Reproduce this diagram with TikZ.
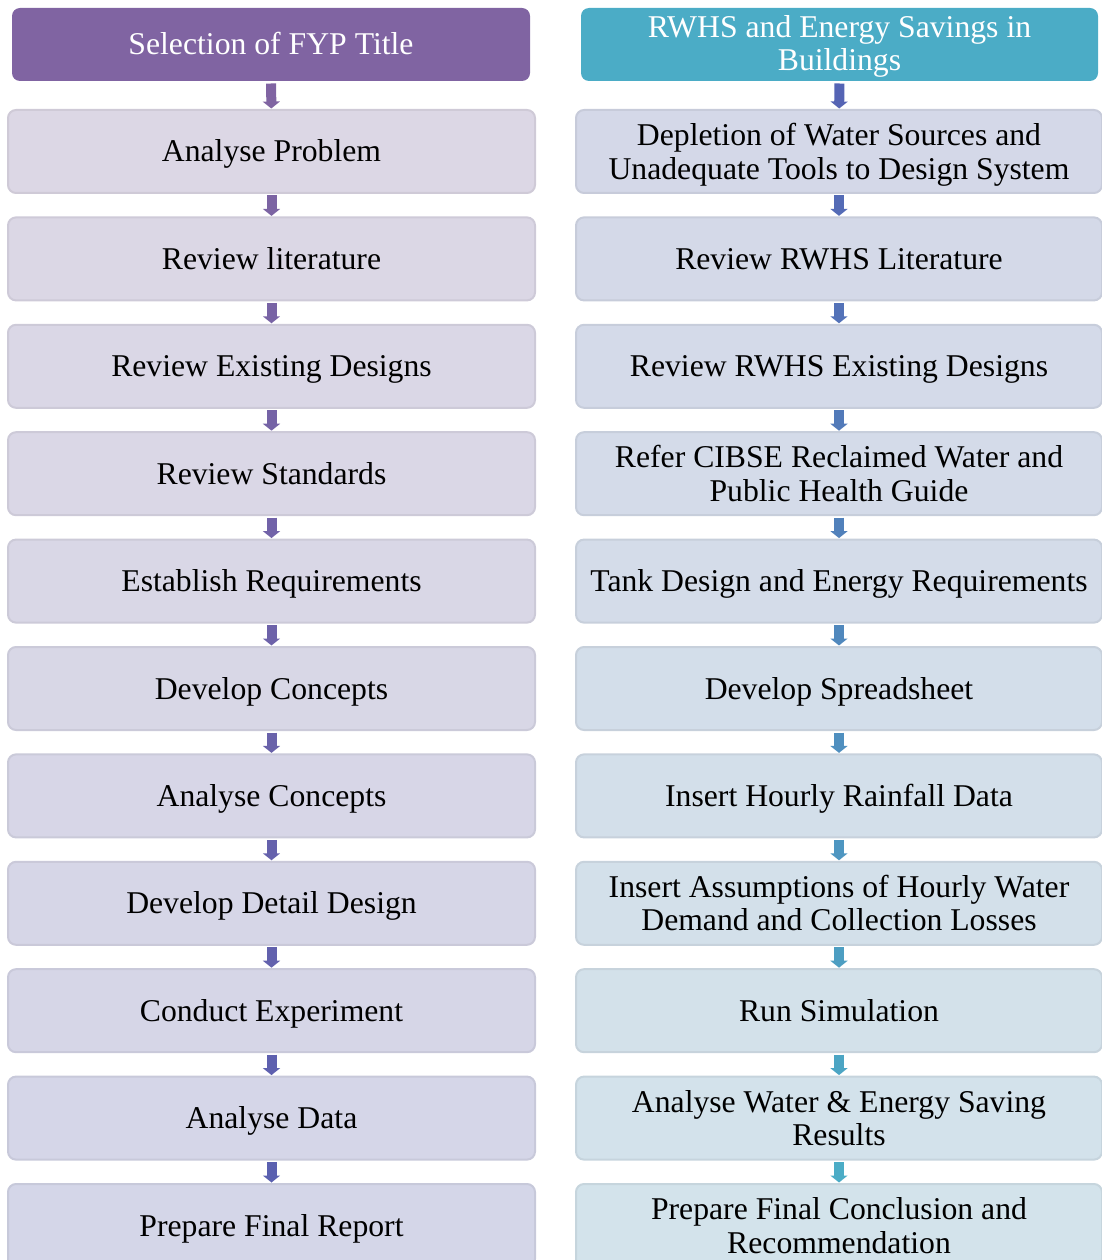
\documentclass[tikz,border=0pt]{standalone}
\usepackage{fontspec}
\setmainfont{Liberation Serif}
\usetikzlibrary{arrows.meta}
\definecolor{LA}{HTML}{DCD7E5}
\definecolor{LB}{HTML}{D4D6E8}
\definecolor{RA}{HTML}{D4D8E8}
\definecolor{RB}{HTML}{D3E3EB}
\definecolor{LAa}{HTML}{8064A2}
\definecolor{LBa}{HTML}{5A60B0}
\definecolor{RAa}{HTML}{5564B4}
\definecolor{RBa}{HTML}{4BACC6}
\definecolor{HL}{HTML}{8064A2}
\definecolor{HR}{HTML}{4BACC6}
\tikzset{
  txt/.style={align=center, inner sep=0pt, font=\fontsize{31.7}{33.3}\selectfont, anchor=base},
  box/.style={rectangle, rounded corners=8pt, line width=2pt, inner sep=0pt},
  arr/.style={line width=10pt, -{Triangle[width=17pt,length=7pt]}, shorten <=1.5pt, shorten >=0.5pt}
}
\begin{document}
\begin{tikzpicture}[x=1pt,y=-1pt]
\useasboundingbox (0,0) rectangle (1101,1260);
\node[box, fill=HL, minimum width=518, minimum height=73] (LH) at (271,44.5) {};
\node[txt, text=white, yshift=-9.8pt] (LHt) at (LH.center) {Selection of FYP Title};
\node[box, fill=HR, minimum width=517, minimum height=73] (RH) at (839.5,44.5) {};
\node[txt, text=white, yshift=-26.2pt] (RHt) at (RH.center) {RWHS and Energy Savings in\\Buildings};
\foreach [count=\i from 0] \t/\s in {Analyse Problem/-10.5, Review literature/-10.5, Review Existing Designs/-10.5, Review Standards/-10.5, Establish Requirements/-10.5, Develop Concepts/-10.5, Analyse Concepts/-10.5, Develop Detail Design/-10.5, Conduct Experiment/-10.5, Analyse Data/-10.5, Prepare Final Report/-10.5} {
  \pgfmathtruncatemacro\p{\i*10}
  \pgfmathsetmacro\y{151.5+107.4*\i}
  \colorlet{cf}{LB!\p!LA}
  \node[box, fill=cf, draw=cf!94!black, minimum width=527, minimum height=83] (L\i) at (271.5,\y) {};
  \node[txt, yshift=\s pt] (Lt\i) at (L\i.center) {\t};
}
\foreach [count=\i from 0] \t/\s in {{Depletion of Water Sources and\\Unadequate Tools to Design System}/-27.5, Review RWHS Literature/-10.5, Review RWHS Existing Designs/-10.5, {Refer CIBSE Reclaimed Water and\\Public Health Guide}/-27.5, Tank Design and Energy Requirements/-10.5, Develop Spreadsheet/-10.5, Insert Hourly Rainfall Data/-10.5, {Insert Assumptions of Hourly Water\\Demand and Collection Losses}/-27.5, Run Simulation/-10.5, {Analyse Water \& Energy Saving\\Results}/-27.5, {Prepare Final Conclusion and\\Recommendation}/-27.5} {
  \pgfmathtruncatemacro\p{\i*10}
  \pgfmathsetmacro\y{151.5+107.4*\i}
  \colorlet{cf}{RB!\p!RA}
  \node[box, fill=cf, draw=cf!94!black, minimum width=526, minimum height=83] (R\i) at (839,\y) {};
  \node[txt, yshift=\s pt] (Rt\i) at (R\i.center) {\t};
}
\draw[arr, LAa] (LH) -- (L0);
\draw[arr, RAa] (RH) -- (R0);
\foreach \i in {1,...,10} {
  \pgfmathtruncatemacro\j{\i-1}
  \pgfmathtruncatemacro\p{\i*10}
  \draw[arr, color=LBa!\p!LAa] (L\j) -- (L\i);
  \draw[arr, color=RBa!\p!RAa] (R\j) -- (R\i);
}
\end{tikzpicture}
\end{document}
